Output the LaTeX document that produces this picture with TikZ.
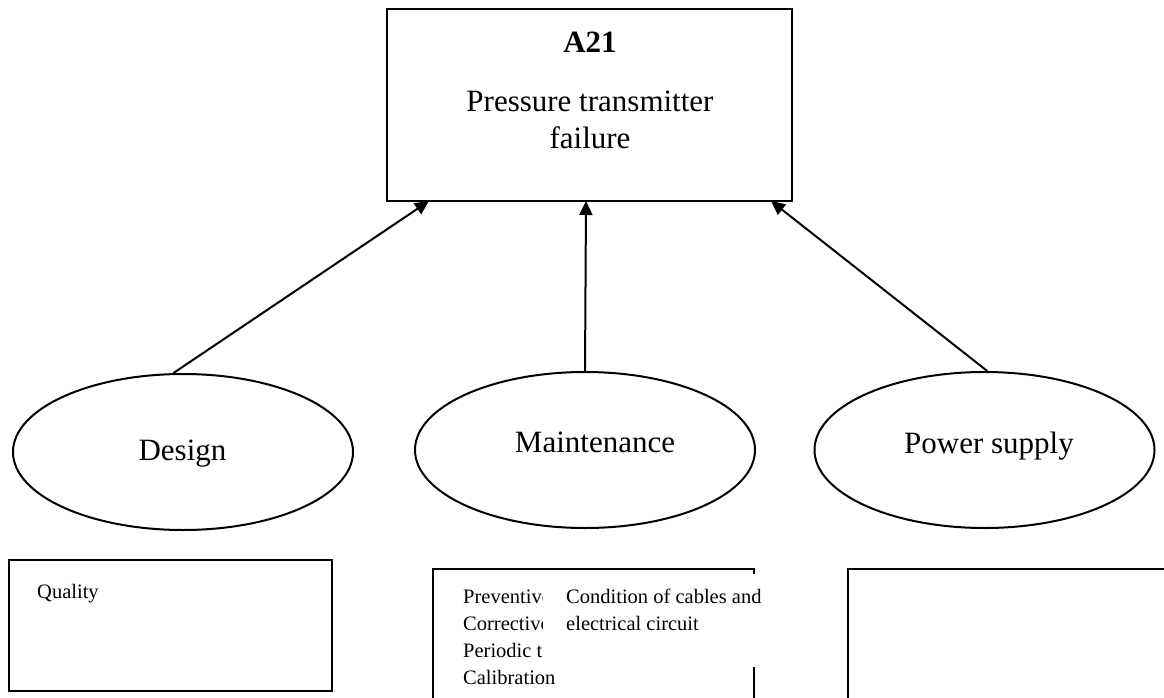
\documentclass[tikz,border=0pt]{standalone}
\usepackage{fontspec}
\setmainfont{Liberation Serif}
\usetikzlibrary{arrows.meta,shapes.geometric}
\tikzset{
  bigtext/.style={font=\fontsize{31}{36}\selectfont, inner sep=0pt},
  smalltext/.style={font=\fontsize{20.5}{27}\selectfont, inner sep=0pt, anchor=base west},
  cause/.style={draw, line width=2pt, shape=ellipse, minimum width=340pt, minimum height=156pt, inner sep=0pt},
  event/.style={draw, line width=2.5pt, shape=rectangle, minimum width=405pt, minimum height=192pt, inner sep=0pt},
  frame/.style={draw, line width=2.5pt},
  link/.style={line width=2pt, -{Triangle[length=14pt,width=13pt]}},
}
\begin{document}
\begin{tikzpicture}[x=1pt,y=-1pt]
\useasboundingbox (0,0) rectangle (1164,698);

% top event
\node[event] (top) at (589.5,105) {};
\node[bigtext, anchor=base, font=\fontsize{31}{36}\selectfont\bfseries] (code) at (590,53) {A21};
\node[bigtext, anchor=base] (name1) at (590,112) {Pressure transmitter};
\node[bigtext, anchor=base] (name2) at (590,148) {failure};

% causes
\node[cause] (D) at (183,452) {};
\node[cause] (M) at (585,450) {};
\node[cause] (P) at (984.5,450) {};
\node[bigtext, anchor=base] (Dt) at (182.5,460) {Design};
\node[bigtext, anchor=base] (Mt) at (595,452) {Maintenance};
\node[bigtext, anchor=base] (Pt) at (989,453) {Power supply};

% arrow targets on the bottom edge of the event box
\coordinate (tD) at (429,201);
\coordinate (tM) at (586,201);
\coordinate (tP) at (771,201);

\draw[link] (D.97) -- (tD);
\draw[link] (M.north) -- (tM);
\draw[link] (P.88) -- (tP);

% detail boxes
\node[frame, rectangle, minimum width=323pt, minimum height=131pt, inner sep=0pt] (Qbox) at (170.5,625.5) {};
\node[smalltext] (q) at (37,598) {Quality};

\draw[frame] (433,700) -- (433,569) -- (754,569) -- (754,700);
\node[smalltext] (m1) at (463,603) {Preventive};
\node[smalltext] (m2) at (463,630) {Corrective};
\node[smalltext] (m3) at (463,657) {Periodic tests};
\node[smalltext] (m4) at (463,684) {Calibration};
% second text column sits on an opaque box over the first one
\fill[white] (542.5,574) rectangle (762,667);
\node[smalltext] (c1) at (566,603) {Condition of cables and};
\node[smalltext] (c2) at (566,630) {electrical circuit};

\draw[frame] (1170,569) -- (848,569) -- (848,700);
\end{tikzpicture}
\end{document}
